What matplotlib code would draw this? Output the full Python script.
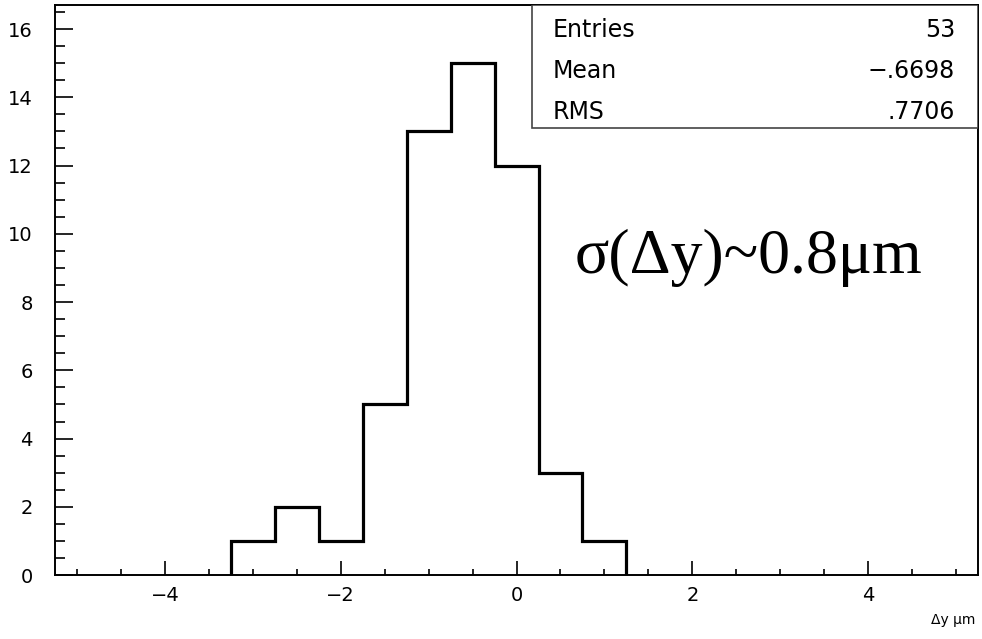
import numpy as np
import matplotlib
matplotlib.use("Agg")
import matplotlib.pyplot as plt
from matplotlib.patches import Rectangle
from matplotlib.ticker import MultipleLocator

# histogram data (bin edges in um, counts per bin)
edges = [-3.25, -2.75, -2.25, -1.75, -1.25, -0.75, -0.25, 0.25, 0.75, 1.25]
counts = [1, 2, 1, 5, 13, 15, 12, 3, 1]

# statistics box
stat_names = ["Entries", "Mean", "RMS"]
stat_values = ["53", "\u2212.6698", ".7706"]

fig = plt.figure(figsize=(9.82, 6.39), dpi=100)
ax = fig.add_axes([0.056, 0.100, 0.940, 0.892])

ax.stairs(counts, edges, baseline=0, color="black", linewidth=2.3)

ax.set_xlim(-5.25, 5.25)
ax.set_ylim(0, 16.7)

ax.xaxis.set_major_locator(MultipleLocator(2))
ax.xaxis.set_minor_locator(MultipleLocator(0.5))
ax.yaxis.set_major_locator(MultipleLocator(2))
ax.yaxis.set_minor_locator(MultipleLocator(0.5))

ax.tick_params(axis="x", which="major", direction="in", length=10, width=1.2,
               labelsize=14, pad=8)
ax.tick_params(axis="x", which="minor", direction="in", length=4, width=1.2)
ax.tick_params(axis="y", which="major", direction="in", length=13, width=1.2,
               labelsize=14, pad=16)
ax.tick_params(axis="y", which="minor", direction="in", length=7, width=1.2)

for sp in ax.spines.values():
    sp.set_linewidth(1.4)

# stats box in upper right
ax.add_patch(Rectangle((0.517, 0.784), 0.483, 0.216, transform=ax.transAxes,
                       facecolor="white", edgecolor="#444444", linewidth=1.2,
                       zorder=3))
ys = [0.956, 0.884, 0.812]
for name, val, y in zip(stat_names, stat_values, ys):
    ax.text(0.5395, y, name, transform=ax.transAxes, fontsize=17,
            ha="left", va="center", zorder=4)
    ax.text(0.975, y, val, transform=ax.transAxes, fontsize=17,
            ha="right", va="center", zorder=4)

ax.text(0.66, 8.86, "\u03c3(\u0394y)~0.8\u03bcm", family="Liberation Serif",
        fontsize=46, ha="left", va="baseline")

fig.text(0.993, 0.018, "\u0394y \u03bcm", fontsize=10, ha="right", va="bottom")

fig.savefig("out.png", dpi=100)
